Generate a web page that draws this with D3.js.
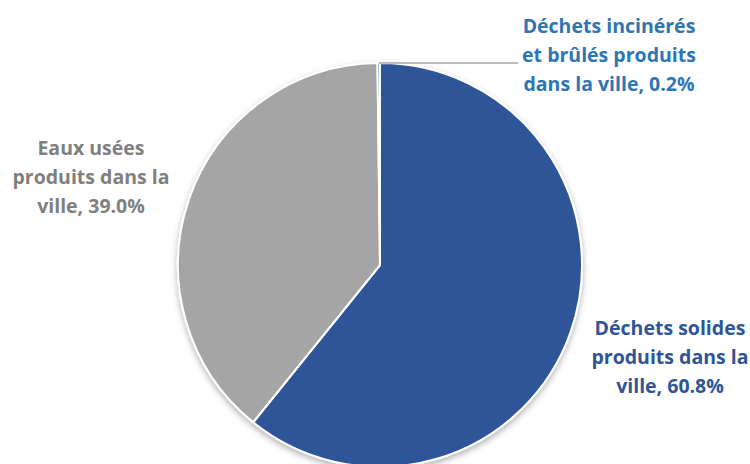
<!DOCTYPE html>
<html>
<head>
  <meta charset="utf-8">
  <title>Pie chart</title>
  <script src="https://d3js.org/d3.v7.min.js"></script>
  <style>
    body { margin: 0; background: #fff; }
    text { font-family: "Open Sans", Lato, sans-serif; font-weight: bold; }
  </style>
</head>
<body>

<div id="pie"></div>

<script>
// Data
const categories = [
  "Déchets solides produits dans la ville",
  "Eaux usées produits dans la ville",
  "Déchets incinérés et brûlés produits dans la ville"
];
const values = [60.8, 39.0, 0.2];
const labelLines = [
  ["Déchets solides", "produits dans la", "ville, 60.8%"],
  ["Eaux usées", "produits dans la", "ville, 39.0%"],
  ["Déchets incinérés", "et brûlés produits", "dans la ville, 0.2%"]
];
const sliceColors = ["#2F5597", "#A5A5A5", "#2E75B6"];
const labelColors = ["#2F5597", "#7F7F7F", "#2E75B6"];

const width = 750, height = 464;
const cx = 380, cy = 265, radius = 202;

const svg = d3.select("#pie")
  .append("svg")
  .attr("width", width)
  .attr("height", height);

const defs = svg.append("defs");
defs.append("filter")
  .attr("id", "shadow")
  .attr("x", "-10%").attr("y", "-10%")
  .attr("width", "120%").attr("height", "130%")
  .append("feDropShadow")
  .attr("dx", 0).attr("dy", 3)
  .attr("stdDeviation", 3)
  .attr("flood-color", "#000")
  .attr("flood-opacity", 0.3);

const data = categories.map((c, i) => ({ name: c, value: values[i], i }));

const pie = d3.pie().value(d => d.value).sort(null);
const arc = d3.arc().innerRadius(0).outerRadius(radius);
const arcs = pie(data);

const g = svg.append("g").attr("transform", `translate(${cx},${cy})`);

g.append("g")
  .attr("filter", "url(#shadow)")
  .selectAll("path")
  .data(arcs)
  .enter()
  .append("path")
  .attr("d", arc)
  .attr("fill", d => sliceColors[d.data.i])
  .attr("stroke", "#fff")
  .attr("stroke-width", 2)
  .attr("stroke-linejoin", "round");

// leader line for the tiny slice
const tiny = arcs[2];
const mid = (tiny.startAngle + tiny.endAngle) / 2;
const p0 = [Math.sin(mid) * radius, -Math.cos(mid) * radius];
g.append("polyline")
  .attr("points", [p0, [138, p0[1]]].map(p => p.join(",")).join(" "))
  .attr("fill", "none")
  .attr("stroke", "#A6A6A6")
  .attr("stroke-width", 1.5);

// label positions (absolute): centre x, first baseline y
const labelPos = [[670, 335], [91, 155], [609, 33]];
const lineHeight = 29;

labelLines.forEach((lines, i) => {
  const t = svg.append("text")
    .attr("text-anchor", "middle")
    .attr("fill", labelColors[i])
    .attr("font-size", 19.5);
  lines.forEach((l, j) => {
    t.append("tspan")
      .attr("x", labelPos[i][0])
      .attr("y", labelPos[i][1] + j * lineHeight)
      .text(l);
  });
});
</script>

</body>
</html>
